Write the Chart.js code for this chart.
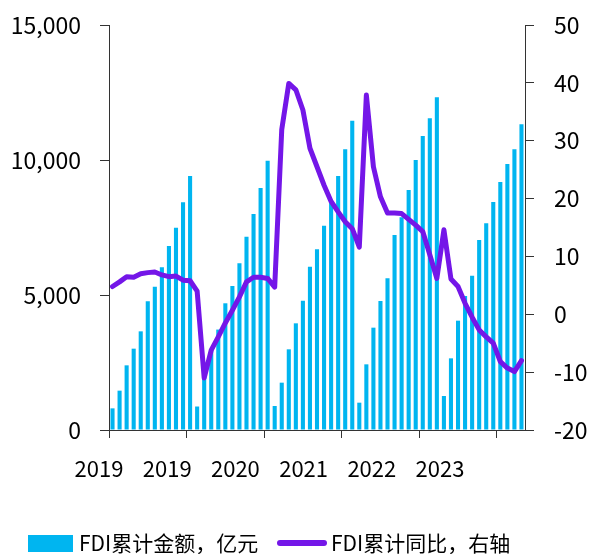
<!DOCTYPE html>
<html>
<head>
<meta charset="utf-8">
<script src="https://cdn.jsdelivr.net/npm/chart.js@4/dist/chart.umd.min.js"></script>
<style>
  html, body { margin: 0; padding: 0; background: #fff; }
  #wrap { width: 594px; height: 554px; position: relative; }
</style>
</head>
<body>
<div id="wrap"><canvas id="chart"></canvas></div>
<script>
// monthly cumulative points (2020 has no separate Feb figure)
const months = [
  "2019-01", "2019-02", "2019-03", "2019-04", "2019-05", "2019-06", "2019-07", "2019-08", "2019-09", "2019-10", "2019-11", "2019-12",
  "2020-01", "2020-03", "2020-04", "2020-05", "2020-06", "2020-07", "2020-08", "2020-09", "2020-10", "2020-11", "2020-12",
  "2021-01", "2021-02", "2021-03", "2021-04", "2021-05", "2021-06", "2021-07", "2021-08", "2021-09", "2021-10", "2021-11", "2021-12",
  "2022-01", "2022-02", "2022-03", "2022-04", "2022-05", "2022-06", "2022-07", "2022-08", "2022-09", "2022-10", "2022-11", "2022-12",
  "2023-01", "2023-02", "2023-03", "2023-04", "2023-05", "2023-06", "2023-07", "2023-08", "2023-09", "2023-10", "2023-11", "2023-12"
]

// FDI累计金额，亿元
const fdiAmount = [
  802, 1457, 2395, 3012, 3654, 4765, 5309, 6025, 6815, 7494, 8432, 9407,
  870, 2075, 2980, 3720, 4693, 5333, 6173, 7160, 8000, 8963, 9975,
  889, 1753, 2988, 3951, 4790, 6049, 6691, 7568, 8490, 9407, 10395, 11457,
  1012, 2432, 3790, 4778, 5617, 7222, 7880, 8889, 10000, 10889, 11543, 12321,
  1259, 2654, 4049, 4960, 5716, 7037, 7654, 8444, 9185, 9852, 10395, 11321
]

// FDI累计同比，%
const fdiYoY = [
  4.8, 5.6, 6.5, 6.4, 7.0, 7.2, 7.3, 6.8, 6.5, 6.6, 5.9, 5.8,
  4.0, -11.0, -6.2, -3.9, -1.5, 0.7, 3.0, 5.6, 6.4, 6.4, 6.2,
  4.7, 31.9, 39.9, 38.8, 35.3, 28.7, 25.5, 22.3, 19.5, 17.7, 16.0, 14.8,
  11.6, 37.9, 25.5, 20.3, 17.5, 17.5, 17.4, 16.4, 15.4, 14.3, 10.3, 6.2,
  14.6, 6.1, 4.8, 1.9, -0.5, -2.7, -3.9, -5.0, -8.2, -9.3, -9.9, -8.0
]

const yearLabels = ["2019", "2019", "2020", "2021", "2022", "2023"]
const seriesLabels = ["FDI累计金额，亿元", "FDI累计同比，右轴"]

const barColor  = "#00B5F0"
const lineColor = "#7416E8"
const axisColor = "#333333"
const fontFamily = '"Noto Sans CJK SC", "Noto Sans", sans-serif'

Chart.defaults.font.family = fontFamily
Chart.defaults.color = "#000"

// year labels under the axis, spaced as in the source chart
const yearLabelPlugin = {
  id: "yearLabels",
  afterDraw(chart) {
    const { ctx, chartArea } = chart
    ctx.save()
    ctx.font = "22px " + fontFamily
    ctx.fillStyle = "#000"
    ctx.textAlign = "center"
    ctx.textBaseline = "middle"
    yearLabels.forEach((t, k) => {
      ctx.fillText(t, chartArea.left - 10 + k * 68.2, chartArea.bottom + 39)
    })
    ctx.restore()
  }
}

// legend row along the bottom
const legendPlugin = {
  id: "bottomLegend",
  afterDraw(chart) {
    const { ctx } = chart
    const [bars, line] = chart.data.datasets
    const y = 543
    ctx.save()
    ctx.font = "21px " + fontFamily
    ctx.textBaseline = "middle"
    ctx.fillStyle = bars.backgroundColor
    ctx.fillRect(28, y - 8, 45, 17)
    ctx.fillStyle = "#000"
    ctx.fillText(bars.label, 79, y)

    ctx.strokeStyle = line.borderColor
    ctx.lineWidth = 6
    ctx.lineCap = "round"
    ctx.beginPath()
    ctx.moveTo(280, y)
    ctx.lineTo(324, y)
    ctx.stroke()
    ctx.fillStyle = "#000"
    ctx.fillText(line.label, 331, y)
    ctx.restore()
  }
}

new Chart(document.getElementById("chart"), {
  type: "bar",
  data: {
    labels: months,
    datasets: [
      {
        label: seriesLabels[0],
        data: fdiAmount,
        yAxisID: "y",
        backgroundColor: barColor,
        borderWidth: 0,
        categoryPercentage: 1,
        barPercentage: 0.58,
        order: 2
      },
      {
        type: "line",
        label: seriesLabels[1],
        data: fdiYoY,
        yAxisID: "y1",
        borderColor: lineColor,
        backgroundColor: lineColor,
        borderWidth: 5,
        borderJoinStyle: "round",
        borderCapStyle: "round",
        pointRadius: 0,
        tension: 0,
        order: 1
      }
    ]
  },
  options: {
    responsive: true,
    maintainAspectRatio: false,
    animation: false,
    layout: { padding: { top: 25, left: 0, right: 0, bottom: 0 } },
    plugins: {
      legend: { display: false },
      tooltip: { enabled: false }
    },
    scales: {
      x: {
        offset: true,
        grid: {
          offset: true,
          drawOnChartArea: false,
          tickLength: 8,
          tickColor: (c) => (c.index % 11 === 0 ? axisColor : "rgba(0,0,0,0)")
        },
        border: { color: axisColor, width: 1 },
        ticks: { autoSkip: false, maxRotation: 0, callback: () => "" },
        afterFit: (s) => { s.height = 124 }
      },
      y: {
        position: "left",
        min: 0,
        max: 15000,
        grid: { drawOnChartArea: false, tickLength: 9, tickColor: axisColor },
        border: { color: axisColor, width: 1 },
        ticks: {
          stepSize: 5000,
          padding: 19,
          font: { size: 23, lineHeight: 0.3 },
          callback: (v) => v.toLocaleString("en-US")
        },
        afterFit: (s) => { s.width = 109 }
      },
      y1: {
        position: "right",
        min: -20,
        max: 50,
        grid: { drawOnChartArea: false, tickLength: 9, tickColor: axisColor },
        border: { color: axisColor, width: 1 },
        ticks: { stepSize: 10, padding: 20, font: { size: 23, lineHeight: 0.3 } },
        afterFit: (s) => { s.width = 69 }
      }
    }
  },
  plugins: [yearLabelPlugin, legendPlugin]
})
</script>
</body>
</html>
